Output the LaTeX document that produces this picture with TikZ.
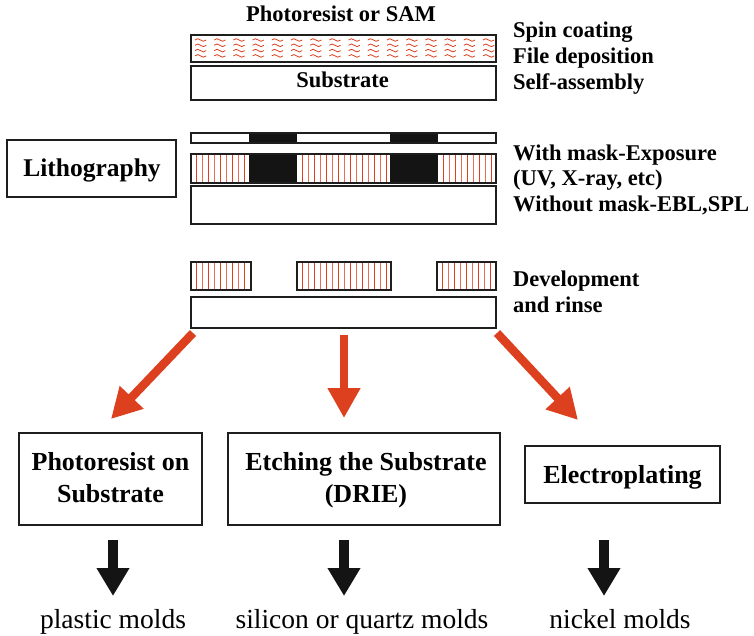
\documentclass[tikz,border=0pt]{standalone}
\usepackage{fontspec}
\setmainfont{Liberation Serif}
\usetikzlibrary{arrows.meta,calc}
\definecolor{arrred}{RGB}{221,64,30}
\definecolor{stripeA}{RGB}{224,62,32}
\definecolor{stripeB}{RGB}{234,110,84}
\definecolor{edge}{RGB}{30,30,30}
\definecolor{maskblack}{RGB}{20,20,20}
\newcommand{\stripebox}[4]{%
  \pgfmathsetmacro{\sa}{#1+5.5}%
  \pgfmathsetmacro{\sb}{#1+11.5}%
  \pgfmathsetmacro{\se}{#2-2}%
  \foreach \xx [count=\c] in {\sa,\sb,...,\se}{%
    \ifodd\c \def\stcol{stripeA}\else\def\stcol{stripeB}\fi
    \draw[\stcol, line width=1.5pt] (\xx,#3) -- (\xx,#4);
  }%
}
\begin{document}
\begin{tikzpicture}[x=1pt,y=-1pt,
  layer/.style={draw=edge, line width=1.3pt, inner sep=0pt, rectangle},
  box/.style={draw=edge, line width=1.2pt, inner sep=0pt, rectangle},
  lbl/.style={font=\fontsize{22.5}{26}\selectfont\bfseries, inner sep=0pt},
  biglbl/.style={font=\fontsize{26}{32}\selectfont\bfseries, inner sep=0pt, align=center},
  moldlbl/.style={font=\fontsize{27.5}{30}\selectfont, inner sep=0pt},
  wave/.style={draw=arrred, line width=0.8pt},
  redarr/.style={draw=arrred, line width=8.5pt, -{Triangle[length=30pt,width=31pt]}},
  blkarr/.style={draw=maskblack, line width=10pt, -{Triangle[length=28pt,width=31pt]}}
]
\useasboundingbox[fill=white] (0,0) rectangle (754,636);

% ---- step 1: resist / SAM on substrate
\node[lbl, anchor=base] (ttl) at (341,22) {Photoresist or SAM};
\foreach \i in {0,...,15}{
  \foreach \j in {0,...,3}{
    \draw[wave] ({195+\i*19.2},{40+\j*5.3}) sin ++(2.8,-1.3) cos ++(2.8,1.3) sin ++(2.8,1.3) cos ++(2.8,-1.3);
  }
}
\node[layer, minimum width=305pt, minimum height=27pt] (resist) at (343.5,48.5) {};
\node[layer, minimum width=305pt, minimum height=34pt] (sub1) at (343.5,83) {};
\node[lbl, anchor=base] (sub1t) at (342.5,88) {Substrate};
\node[lbl, anchor=base west] (r1) at (513,38) {Spin coating};
\node[lbl, anchor=base west] (r2) at (513,64) {File deposition};
\node[lbl, anchor=base west] (r3) at (513,90) {Self-assembly};

% ---- step 2: lithography
\node[box, minimum width=169pt, minimum height=57pt] (litho) at (91.5,168.5) {};
\node[font=\fontsize{25.5}{28}\selectfont\bfseries, inner sep=0pt, anchor=base] (lithot) at (92,177) {Lithography};

\fill[maskblack] (249,133) rectangle (297,143);
\fill[maskblack] (390,133) rectangle (438,143);
\node[layer, minimum width=305pt, minimum height=10pt] (mask) at (343.5,138) {};

\stripebox{191}{249}{154}{183}
\stripebox{297}{390}{154}{183}
\stripebox{438}{496}{154}{183}
\fill[maskblack] (249,154) rectangle (297,183);
\fill[maskblack] (390,154) rectangle (438,183);
\node[layer, minimum width=305pt, minimum height=29pt] (expo) at (343.5,168.5) {};
\node[layer, minimum width=305pt, minimum height=38pt] (sub2) at (343.5,205) {};

\node[lbl, anchor=base west] (r4) at (513,161) {With mask-Exposure};
\node[lbl, anchor=base west] (r5) at (513,186) {(UV, X-ray, etc)};
\node[lbl, anchor=base west] (r6) at (513,212) {Without mask-EBL,SPL};

% ---- step 3: development
\stripebox{191}{251}{262}{290}
\stripebox{297}{391}{262}{290}
\stripebox{437}{496}{262}{290}
\node[layer, minimum width=60pt, minimum height=28pt] (dev1) at (221,276) {};
\node[layer, minimum width=94pt, minimum height=28pt] (dev2) at (344,276) {};
\node[layer, minimum width=59pt, minimum height=28pt] (dev3) at (466.5,276) {};
\node[layer, minimum width=305pt, minimum height=31pt] (sub3) at (343.5,312.5) {};
\node[lbl, anchor=base west] (r7) at (513,286) {Development};
\node[lbl, anchor=base west] (r8) at (513,312) {and rinse};

% ---- red arrows
\coordinate (a1s) at (193,333);
\coordinate (a1e) at (111,419);
\coordinate (a2s) at (344,335);
\coordinate (a2e) at (344,418);
\coordinate (a3s) at (497,333);
\coordinate (a3e) at (578,420);
\draw[redarr] (a1s) -- (a1e);
\draw[redarr] (a2s) -- (a2e);
\draw[redarr] (a3s) -- (a3e);

% ---- bottom boxes
\node[box, minimum width=183pt, minimum height=92pt] (b1) at (110.5,479) {};
\node[biglbl, anchor=base] (b1t) at (110.5,502) {Photoresist on\\Substrate};
\node[box, minimum width=272pt, minimum height=92pt] (b2) at (364,479) {};
\node[biglbl, anchor=base] (b2t) at (366,502) {Etching the Substrate\\(DRIE)};
\node[box, minimum width=195pt, minimum height=57pt] (b3) at (622.5,474.5) {};
\node[biglbl, anchor=base] (b3t) at (622.5,483) {Electroplating};

% ---- black arrows
\coordinate (k1s) at (113,540);
\coordinate (k1e) at (113,596);
\coordinate (k2s) at (344,540);
\coordinate (k2e) at (344,596);
\coordinate (k3s) at (604,540);
\coordinate (k3e) at (604,596);
\draw[blkarr] (k1s) -- (k1e);
\draw[blkarr] (k2s) -- (k2e);
\draw[blkarr] (k3s) -- (k3e);

\node[moldlbl, anchor=base] (m1) at (113,628) {plastic molds};
\node[moldlbl, anchor=base] (m2) at (362,628) {silicon or quartz molds};
\node[moldlbl, anchor=base] (m3) at (620,628) {nickel molds};
\end{tikzpicture}
\end{document}
